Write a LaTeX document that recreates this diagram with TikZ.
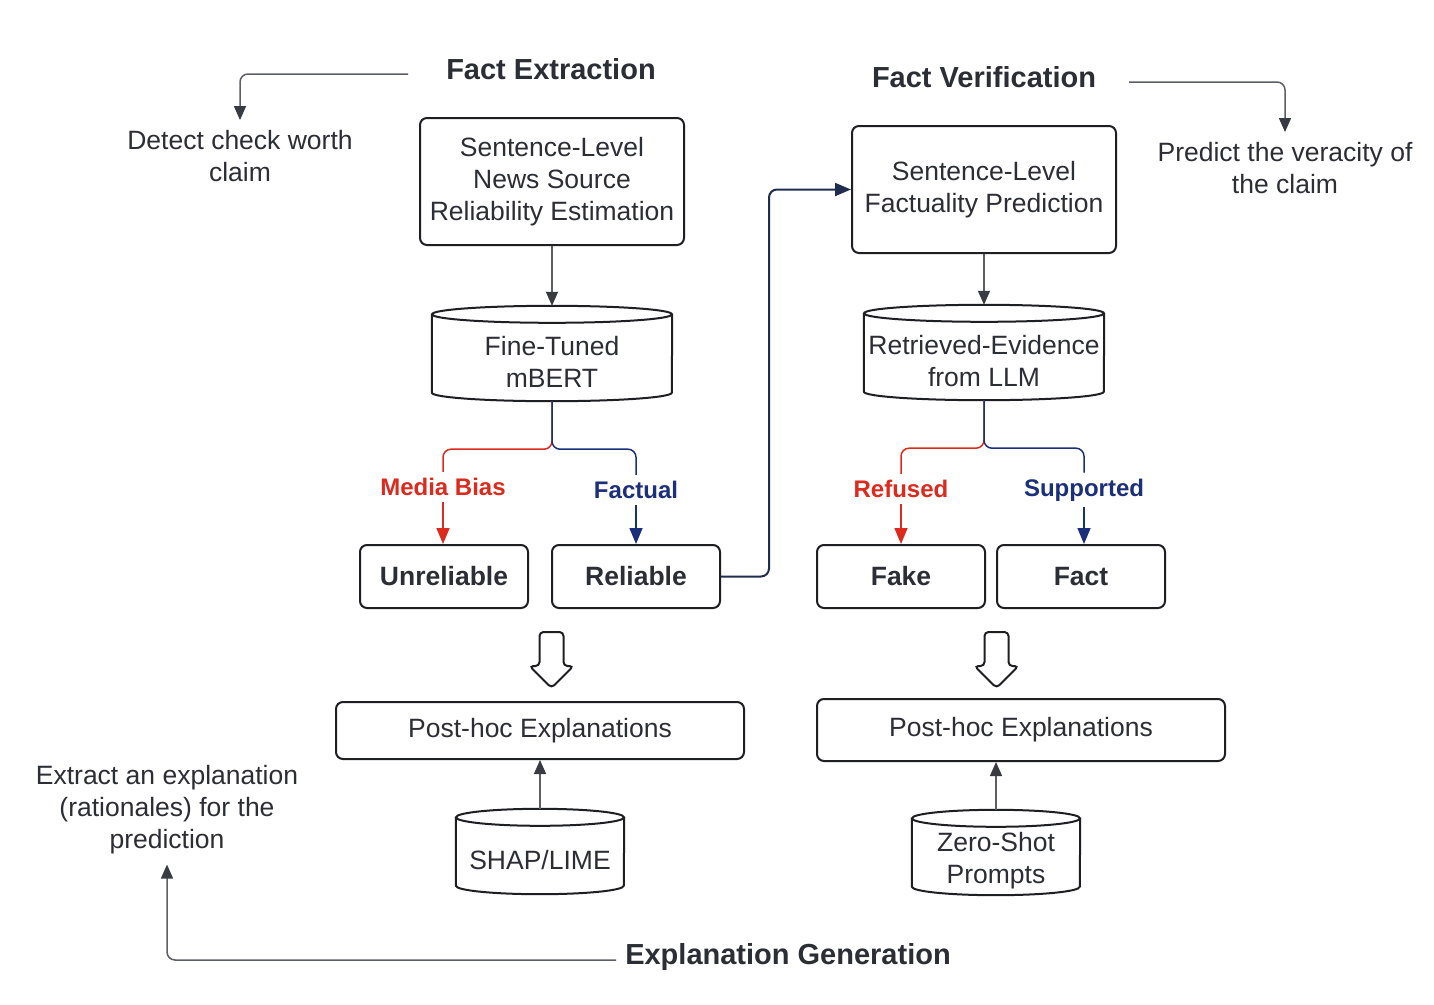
\documentclass[tikz,border=0pt]{standalone}
\usepackage{fontspec}
\setmainfont{Liberation Sans}
\usetikzlibrary{arrows.meta,calc}
\definecolor{txt}{HTML}{2B2E35}
\definecolor{boxc}{HTML}{1E1F22}
\definecolor{connc}{HTML}{5C5F66}
\definecolor{tipc}{HTML}{383B42}
\definecolor{redc}{HTML}{DC2A1E}
\definecolor{bluec}{HTML}{1B2F7A}
\definecolor{navyc}{HTML}{1F2D4F}
\newcommand\cylout[3]{%
  \draw[draw=boxc, line width=2pt] ($(#1.north)+(0,-#3)$) ellipse [x radius=#2pt, y radius=#3pt];
  \draw[draw=boxc, line width=2pt] ($(#1.north west)+(0,-#3)$) -- ($(#1.south west)+(0,-#3)$)
     arc[start angle=180, end angle=360, x radius=#2pt, y radius=#3pt] -- ($(#1.north east)+(0,-#3)$);
  \coordinate (#1-top) at ($(#1.north)+(0,-2*#3)$);}
\newcommand\blockarr[1]{%
  \draw[draw=boxc, line width=2pt, rounded corners=4pt, fill=white]
    ($(#1)+(-12,0)$) -- ($(#1)+(12,0)$) -- ($(#1)+(12,34)$) -- ($(#1)+(22,34)$)
    -- ($(#1)+(0,56)$) -- ($(#1)+(-22,34)$) -- ($(#1)+(-12,34)$) -- cycle;}
\begin{document}
\begin{tikzpicture}[x=1pt, y=-1pt,
  box/.style={draw=boxc, line width=2pt, rounded corners=7pt, fill=white, text=txt, align=center,
    font=\fontsize{26.5}{32}\selectfont, inner sep=0pt},
  bbox/.style={box, font=\fontsize{26.5}{32}\selectfont\bfseries},
  cyl/.style={text=txt, align=center, font=\fontsize{26.5}{32}\selectfont, inner sep=0pt},
  note/.style={text=txt, align=center, font=\fontsize{26.5}{32}\selectfont, inner sep=0pt},
  head/.style={text=txt, font=\fontsize{29}{34}\selectfont\bfseries, inner sep=0pt},
  lab/.style={font=\fontsize{24}{28}\selectfont\bfseries, inner sep=6pt},
  conn/.style={draw=connc, line width=1.5pt, -{Triangle[width=12pt,length=14pt,color=tipc]}},
  redl/.style={draw=redc, line width=1.5pt, rounded corners=8pt},
  bluel/.style={draw=bluec, line width=1.5pt, rounded corners=8pt},
  redtip/.style={-{Triangle[width=13pt,length=16pt,color=redc]}},
  bluetip/.style={-{Triangle[width=13pt,length=16pt,color=bluec]}},
]
\useasboundingbox[fill=white] (0,0) rectangle (1434,1004);

% headings and notes
\node[head] (fe) at (551,69) {Fact Extraction};
\node[head] (fv) at (984,77) {Fact Verification};
\node[head] (eg) at (788,957) {Explanation Generation};
\node[note] (det) at (240,156) {Detect check worth\\claim};
\node[note] (pred) at (1285,168) {Predict the veracity of\\the claim};
\node[note] (ext) at (167,810) {Extract an explanation\\(rationales) for the\\prediction};

% boxes
\node[box, minimum width=264, minimum height=127] (sns) at (552,181.5) {Sentence-Level\\News Source\\Reliability Estimation};
\node[box, minimum width=264, minimum height=127] (slf) at (984,189.5) {Sentence-Level\\Factuality Prediction};

% cylinders
\node[cyl, minimum width=240, minimum height=78] (mbert) at (552,362) {Fine-Tuned\\mBERT};
\cylout{mbert}{120}{8.5}
\node[cyl, minimum width=240, minimum height=78] (ret) at (984,361) {Retrieved-Evidence\\from LLM};
\cylout{ret}{120}{8.5}
\node[cyl, minimum width=168, minimum height=68] (shap) at (540,860) {SHAP/LIME};
\cylout{shap}{84}{8.5}
\node[cyl, minimum width=168, minimum height=68] (zs) at (996,861) {Zero-Shot\\Prompts};
\cylout{zs}{84}{8.5}

% outcome boxes
\node[bbox, minimum width=168, minimum height=63] (unrel) at (444,576.5) {Unreliable};
\node[bbox, minimum width=168, minimum height=63] (rel) at (636,576.5) {Reliable};
\node[bbox, minimum width=168, minimum height=63] (fake) at (901,576.5) {Fake};
\node[bbox, minimum width=168, minimum height=63] (fact) at (1081,576.5) {Fact};

% post-hoc boxes
\node[box, minimum width=408, minimum height=57] (phl) at (540,730.5) {Post-hoc Explanations};
\node[box, minimum width=408, minimum height=62] (phr) at (1021,730) {Post-hoc Explanations};

% block arrows
\coordinate (ba1) at (551.5,632);
\blockarr{ba1}
\coordinate (ba2) at (996.5,632);
\blockarr{ba2}

% branch labels
\node[lab, text=redc] (mb) at (443,487) {Media Bias};
\node[lab, text=bluec] (fa) at (636,490) {Factual};
\node[lab, text=redc] (rf) at (901,489) {Refused};
\node[lab, text=bluec] (sp) at (1084,490) {Supported};

% connectors
\draw[conn] (sns.south) -- (mbert-top);
\draw[conn] (slf.south) -- (ret-top);

\draw[redl] (mbert.south) -- ++(0,48) -| (mb.north);
\draw[bluel] (mbert.south) -- ++(0,48) -| (fa.north);
\draw[redl, redtip] (mb.south) -- (mb.south |- unrel.north);
\draw[bluel, bluetip] (fa.south) -- (fa.south |- rel.north);

\draw[redl] (ret.south) -- ++(0,48) -| (rf.north);
\draw[bluel] (ret.south) -- ++(0,48) -| (sp.north);
\draw[redl, redtip] (rf.south) -- (rf.south |- fake.north);
\draw[bluel, bluetip] (sp.south) -- (sp.south |- fact.north);

\draw[draw=navyc, line width=2pt, rounded corners=8pt, -{Triangle[width=13pt,length=16pt,color=navyc]}]
  (rel.east) -- ++(48,0) |- (slf.west);

\draw[conn] (shap-top) -- (phl.south);
\draw[conn] (zs-top) -- (zs-top |- phr.south);

\coordinate (fes) at (408,74);
\draw[conn, rounded corners=8pt, shorten >=10pt] (fes) -| (det.north);
\coordinate (fvs) at (1129,82);
\draw[conn, rounded corners=8pt, shorten >=10pt] (fvs) -| (pred.north);
\coordinate (egs) at (616,960);
\draw[conn, rounded corners=8pt, shorten >=10pt] (egs) -| (ext.south);
\end{tikzpicture}
\end{document}
